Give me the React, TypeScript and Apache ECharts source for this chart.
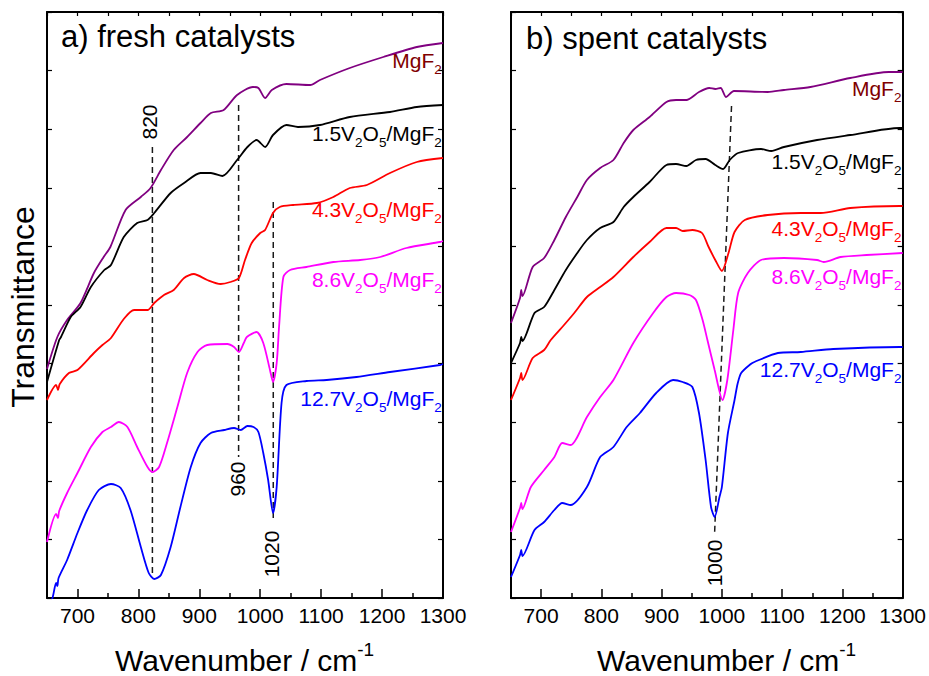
import React, { useEffect, useRef } from "react";
import * as echarts from "echarts";

const FONT = "'Liberation Sans', Arial, Helvetica, sans-serif";

// x axis: wavenumber (cm-1)
const xMin = 650;
const xMax = 1300;
const xMajorTicks = [700, 800, 900, 1000, 1100, 1200, 1300];
const xMinorTicks = [650, 750, 850, 950, 1050, 1150, 1250];
const xAllTicks = [650, 700, 750, 800, 850, 900, 950, 1000, 1050, 1100, 1150, 1200, 1250, 1300];
// y axis: transmittance (arbitrary units, stacked offsets)
const yMin = 0;
const yMax = 586;
const yStep = 58.6;

// a) fresh catalysts
const freshMgF2 = [[650,229],[667,261],[683,278],[705,295],[727,325],[743,341],[754,351],[779,388],[804,401],[820,410],[837,428],[858,448],[880,461],[902,475],[919,485],[940,488],[962,503],[988,511],[997,510],[1008,500],[1019,508],[1043,514],[1082,513],[1098,518],[1147,530],[1202,541],[1257,551],[1300,555]];
const fresh15 = [[650,216],[670,258],[673,261],[689,281],[705,291],[722,311],[744,328],[755,333],[776,361],[798,375],[815,378],[826,385],[853,405],[875,415],[902,425],[919,425],[938,422],[962,438],[979,451],[994,458],[1008,451],[1021,463],[1043,473],[1062,471],[1098,473],[1147,481],[1213,486],[1257,491],[1300,493]];
const fresh43 = [[650,198],[665,213],[668,208],[671,214],[686,225],[700,228],[727,245],[741,253],[755,260],[776,279],[793,288],[815,288],[826,295],[842,303],[858,308],[875,320],[891,324],[913,318],[935,314],[951,316],[965,320],[975,338],[986,355],[1000,365],[1008,368],[1021,385],[1032,391],[1054,393],[1093,395],[1120,401],[1147,410],[1175,413],[1213,425],[1257,436],[1300,440]];
const fresh86 = [[650,56],[665,84],[668,80],[670,87],[683,105],[700,125],[722,151],[741,166],[755,171],[768,176],[782,171],[798,151],[815,131],[823,126],[834,131],[847,155],[864,191],[880,225],[897,246],[913,253],[946,254],[957,251],[965,246],[973,255],[978,261],[994,266],[1005,255],[1016,228],[1021,216],[1027,235],[1031,272],[1038,321],[1049,328],[1076,331],[1120,336],[1164,338],[1197,341],[1240,350],[1295,356],[1300,357]];
const fresh127 = [[650,-12],[659,0],[665,15],[667,12],[669,20],[683,38],[700,65],[716,88],[735,108],[755,114],[771,110],[787,88],[804,51],[817,25],[826,19],[837,23],[853,51],[869,91],[886,131],[902,155],[919,165],[941,168],[957,170],[968,168],[979,172],[989,171],[997,166],[1005,145],[1013,118],[1021,85],[1027,111],[1035,195],[1043,213],[1076,217],[1109,218],[1158,221],[1213,226],[1295,233],[1300,234]];

// b) spent catalysts
const spentMgF2 = [[650,275],[665,300],[667,308],[669,302],[686,331],[705,340],[722,358],[741,381],[760,401],[776,418],[798,430],[820,438],[837,455],[853,468],[880,481],[908,496],[924,498],[941,498],[962,506],[979,510],[989,509],[998,510],[1007,501],[1020,507],[1076,506],[1103,508],[1147,511],[1213,520],[1277,526],[1300,526]];
const spent15 = [[650,235],[665,255],[667,261],[669,257],[689,285],[705,291],[722,308],[741,328],[760,345],[776,358],[798,370],[820,376],[837,391],[853,401],[880,416],[908,433],[924,434],[941,432],[957,438],[973,439],[989,433],[1002,429],[1013,438],[1027,445],[1065,449],[1082,447],[1103,451],[1158,458],[1213,463],[1295,470],[1300,470]];
const spent43 = [[650,198],[665,220],[667,225],[669,218],[686,240],[705,248],[716,258],[738,273],[755,285],[776,301],[798,311],[820,321],[853,341],[880,356],[908,370],[924,370],[935,367],[951,368],[967,365],[978,351],[989,338],[1000,327],[1011,345],[1021,366],[1038,378],[1076,383],[1131,385],[1164,385],[1213,390],[1295,392],[1300,392]];
const spent86 = [[650,66],[665,90],[667,95],[669,89],[683,111],[705,128],[722,141],[735,155],[749,153],[776,181],[798,201],[820,218],[853,255],[886,285],[908,301],[924,305],[946,303],[957,298],[968,278],[976,258],[988,228],[1001,198],[1009,218],[1019,268],[1027,305],[1043,325],[1065,338],[1103,340],[1158,338],[1169,336],[1197,341],[1240,343],[1300,345]];
const spent127 = [[650,21],[665,43],[667,48],[669,42],[689,68],[705,76],[722,88],[735,95],[749,93],[776,111],[798,141],[820,151],[842,171],[864,185],[891,205],[919,218],[935,216],[951,211],[962,185],[973,138],[982,91],[988,81],[996,101],[1000,111],[1010,165],[1021,198],[1026,214],[1032,225],[1048,234],[1054,236],[1093,245],[1131,246],[1185,249],[1295,251],[1300,251]];

// band guide lines (wavenumber, transmittance) and their labels
const freshBands = ["820", "960", "1020"];
const freshBandLines = [
  [[823, 451], [823, 21]],
  [[964.5, 493], [964.5, 141]],
  [[1021.4, 396], [1021.4, 76]],
];
const freshBandLabelAt = [[819, 476], [963, 119], [1019, 44]];
const spentBands = ["1000"];
const spentBandLines = [[[1016, 492], [988, 66]]];
const spentBandLabelAt = [[988, 35]];

const sampleNames = ["MgF2", "1.5V2O5/MgF2", "4.3V2O5/MgF2", "8.6V2O5/MgF2", "12.7V2O5/MgF2"];
const sampleColors = ["#800080", "#000000", "#ff0000", "#ff00ff", "#0000ff"];
const labelColors = ["#800000", "#000000", "#ff0000", "#ff00ff", "#0000ff"];
const freshLabelY = [538, 465, 389, 319, 200];
const spentLabelY = [510, 437, 370, 322, 229];
const labelX = 1298;

const freshSeries = [freshMgF2, fresh15, fresh43, fresh86, fresh127];
const spentSeries = [spentMgF2, spent15, spent43, spent86, spent127];

function richName(name: string) {
  if (name === "MgF2") return "{a|MgF}{s|2}";
  const m = name.match(/^([\d.]+)V2O5\/MgF2$/);
  if (m) return `{a|${m[1]}V}{s|2}{a|O}{s|5}{a|/MgF}{s|2}`;
  return `{a|${name}}`;
}

export default function App() {
  const ref = useRef<HTMLDivElement>(null);

  useEffect(() => {
    if (!ref.current) return;
    const chart = echarts.init(ref.current, null, { renderer: "svg" });

    const grids = [
      { left: 47, top: 12, width: 396, height: 586 },
      { left: 511, top: 12, width: 395, height: 586 },
    ];

    const xAxes: any[] = [];
    const yAxes: any[] = [];
    grids.forEach((_, g) => {
      xAxes.push({
        gridIndex: g, type: "value", min: xMin, max: xMax, position: "bottom",
        axisLine: { show: true, onZero: false, lineStyle: { color: "#000", width: 2 } },
        axisTick: { show: true, inside: true, length: 9, customValues: xMajorTicks, lineStyle: { color: "#000", width: 1.5 } },
        axisLabel: {
          show: true, customValues: xMajorTicks, fontSize: 21, color: "#000", fontFamily: FONT, margin: 7,
          formatter: (v: number) => String(v),
        },
        splitLine: { show: false },
      });
      xAxes.push({
        gridIndex: g, type: "value", min: xMin, max: xMax, position: "bottom",
        axisLine: { show: false },
        axisTick: { show: true, inside: true, length: 5, customValues: xMinorTicks, lineStyle: { color: "#000", width: 1.5 } },
        axisLabel: { show: false },
        splitLine: { show: false },
      });
      xAxes.push({
        gridIndex: g, type: "value", min: xMin, max: xMax, position: "top",
        axisLine: { show: true, onZero: false, lineStyle: { color: "#000", width: 2 } },
        axisTick: { show: true, inside: true, length: 4, customValues: xAllTicks, lineStyle: { color: "#000", width: 1.2 } },
        axisLabel: { show: false },
        splitLine: { show: false },
      });
      yAxes.push({
        gridIndex: g, type: "value", min: yMin, max: yMax, interval: yStep, position: "left",
        axisLine: { show: true, onZero: false, lineStyle: { color: "#000", width: 2 } },
        axisTick: { show: true, inside: true, length: 5, lineStyle: { color: "#000", width: 1.2 } },
        axisLabel: { show: false },
        splitLine: { show: false },
      });
      yAxes.push({
        gridIndex: g, type: "value", min: yMin, max: yMax, interval: yStep, position: "right",
        axisLine: { show: true, onZero: false, lineStyle: { color: "#000", width: 2 } },
        axisTick: { show: true, inside: true, length: 5, lineStyle: { color: "#000", width: 1.2 } },
        axisLabel: { show: false },
        splitLine: { show: false },
      });
    });

    const series: any[] = [];
    const addPanel = (g: number, data: number[][][], bandLines: number[][][]) => {
      bandLines.forEach((ln) => {
        series.push({
          type: "line", xAxisIndex: g * 3, yAxisIndex: g * 2, data: ln,
          showSymbol: false, silent: true, z: 1,
          lineStyle: { color: "#1a1a1a", width: 1.5, type: [6, 4] },
        });
      });
      data.forEach((d, i) => {
        series.push({
          type: "line", name: sampleNames[i], xAxisIndex: g * 3, yAxisIndex: g * 2, data: d,
          showSymbol: false, smooth: 0.25, z: 2,
          lineStyle: { color: sampleColors[i], width: 1.8 },
        });
      });
    };
    addPanel(0, freshSeries, freshBandLines);
    addPanel(1, spentSeries, spentBandLines);

    chart.setOption({
      animation: false,
      backgroundColor: "#fff",
      grid: grids.map((g) => ({ ...g, containLabel: false })),
      xAxis: xAxes,
      yAxis: yAxes,
      series,
    });

    const toPx = (panel: number, p: number[]) =>
      chart.convertToPixel({ xAxisIndex: panel * 3, yAxisIndex: panel * 2 }, p) as number[];

    const graphic: any[] = [];
    const labelRich = (color: string) => ({
      a: { fontSize: 21, fontFamily: FONT, fill: color, lineHeight: 32 },
      s: { fontSize: 13.5, fontFamily: FONT, fill: color, lineHeight: 32, verticalAlign: "bottom" },
    });
    const addText = (x: number, y: number, text: string, opts: any = {}) => {
      graphic.push({
        type: "text", x, y, rotation: opts.rotation || 0, z: 100,
        style: {
          text, fill: opts.color || "#000", fontSize: opts.fontSize || 20, fontFamily: FONT,
          align: opts.align || "center", verticalAlign: opts.vAlign || "middle",
          textAlign: opts.align || "center", textVerticalAlign: opts.vAlign || "middle",
          rich: opts.rich,
        },
      });
    };

    [freshLabelY, spentLabelY].forEach((ys, panel) => {
      ys.forEach((v, i) => {
        const [x, y] = toPx(panel, [labelX, v]);
        addText(x, y, richName(sampleNames[i]), { align: "right", color: labelColors[i], rich: labelRich(labelColors[i]) });
      });
    });
    freshBands.forEach((t, i) => {
      const [x, y] = toPx(0, freshBandLabelAt[i]);
      addText(x, y, t, { rotation: Math.PI / 2, fontSize: 21 });
    });
    spentBands.forEach((t, i) => {
      const [x, y] = toPx(1, spentBandLabelAt[i]);
      addText(x, y, t, { rotation: Math.PI / 2, fontSize: 21 });
    });

    // panel titles
    addText(61, 36, "a) fresh catalysts", { align: "left", fontSize: 31 });
    addText(526, 38, "b) spent catalysts", { align: "left", fontSize: 31 });
    // y axis title
    addText(23, 307, "Transmittance", { rotation: Math.PI / 2, fontSize: 32 });
    // x axis titles
    const xTitleRich = {
      a: { fontSize: 30, fontFamily: FONT, fill: "#000", lineHeight: 40 },
      b: { fontSize: 19, fontFamily: FONT, fill: "#000", lineHeight: 40, verticalAlign: "top" },
    };
    addText(115, 660, "{a|Wavenumber / cm}{b|-1}", { align: "left", rich: xTitleRich });
    addText(597, 660, "{a|Wavenumber / cm}{b|-1}", { align: "left", rich: xTitleRich });

    chart.setOption({ graphic });

    return () => chart.dispose();
  }, []);

  return (
    <div
      ref={ref}
      style={{ position: "fixed", left: 0, top: 0, width: 929, height: 676, background: "#fff" }}
    />
  );
}
